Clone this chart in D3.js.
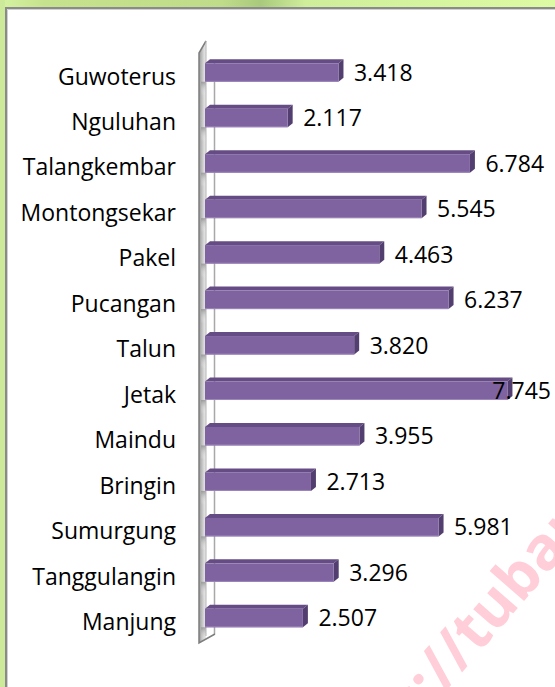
<!DOCTYPE html>
<html>
<head>
<meta charset="utf-8">
<style>
  body { margin: 0; background: #fff; }
  svg { display: block; }
  text { font-family: "Open Sans", "Noto Sans", sans-serif; }
</style>
<script src="https://d3js.org/d3.v7.min.js"></script>
</head>
<body>
<script>
// data, top to bottom
const villages = ["Guwoterus", "Nguluhan", "Talangkembar", "Montongsekar", "Pakel", "Pucangan",
                  "Talun", "Jetak", "Maindu", "Bringin", "Sumurgung", "Tanggulangin", "Manjung"];
const values = [3.418, 2.117, 6.784, 5.545, 4.463, 6.237, 3.820, 7.745, 3.955, 2.713, 5.981, 3.296, 2.507];
const valueLabels = ["3.418", "2.117", "6.784", "5.545", "4.463", "6.237", "3.820", "7.745",
                     "3.955", "2.713", "5.981", "3.296", "2.507"];

const w = 555, h = 687;
const depthX = 5, depthY = 4;   // 3D offset of the bars

const svg = d3.select("body").append("svg")
  .attr("width", w)
  .attr("height", h);

const defs = svg.append("defs");
const topGrad = defs.append("linearGradient").attr("id", "topStrip");
topGrad.append("stop").attr("offset", "0%").attr("stop-color", "#d6f3a2");
topGrad.append("stop").attr("offset", "8%").attr("stop-color", "#c6e28e");
topGrad.append("stop").attr("offset", "40%").attr("stop-color", "#bfdc8a");
topGrad.append("stop").attr("offset", "47%").attr("stop-color", "#a9c97c");
topGrad.append("stop").attr("offset", "55%").attr("stop-color", "#cfee9c");
topGrad.append("stop").attr("offset", "100%").attr("stop-color", "#ddfba2");

const wallGrad = defs.append("linearGradient").attr("id", "wallGrad");
wallGrad.append("stop").attr("offset", "0%").attr("stop-color", "#9a9a9a");
wallGrad.append("stop").attr("offset", "30%").attr("stop-color", "#d8d8d8");
wallGrad.append("stop").attr("offset", "60%").attr("stop-color", "#ffffff");
wallGrad.append("stop").attr("offset", "100%").attr("stop-color", "#c4c4c4");

const shadowGrad = defs.append("linearGradient").attr("id", "shadowGrad")
  .attr("x1", 0).attr("y1", 0).attr("x2", 0).attr("y2", 1);
shadowGrad.append("stop").attr("offset", "0%").attr("stop-color", "#909090").attr("stop-opacity", 0.8);
shadowGrad.append("stop").attr("offset", "100%").attr("stop-color", "#ffffff").attr("stop-opacity", 0);

// green frame around the chart
svg.append("rect").attr("x", 0).attr("y", 0).attr("width", w).attr("height", 7).attr("fill", "url(#topStrip)");
svg.append("rect").attr("x", 0).attr("y", 0).attr("width", 5).attr("height", h).attr("fill", "#cde99a");
svg.append("path")
  .attr("d", `M6,${h} V8 H${w}`)
  .attr("fill", "none").attr("stroke", "#8a8a8a").attr("stroke-width", 2);
svg.append("path")
  .attr("d", `M7.5,${h} V9.5 H${w}`)
  .attr("fill", "none").attr("stroke", "#d0d0d0").attr("stroke-width", 1);

const xScale = d3.scaleLinear()
  .domain([0, 9])
  .range([205, 205 + 9 * 39.05]);

const yScale = d3.scaleBand()
  .domain(villages)
  .range([49.8, 640.8])
  .paddingInner(0.593)
  .paddingOuter(0.2965);

const bw = yScale.bandwidth();

// side wall
const wall = svg.append("g");
wall.append("line")
  .attr("x1", 214.5).attr("x2", 214.5).attr("y1", 60).attr("y2", 634)
  .attr("stroke", "#a8a8a8").attr("stroke-width", 1.5);
wall.append("path")
  .attr("d", "M199,53 L206,41 L206,638 L215,634 L199,643 Z")
  .attr("fill", "url(#wallGrad)");
wall.selectAll("rect.shadow")
  .data(villages)
  .join("rect")
  .attr("class", "shadow")
  .attr("x", 201)
  .attr("y", d => yScale(d) + bw)
  .attr("width", 5)
  .attr("height", 14)
  .attr("fill", "url(#shadowGrad)");
wall.append("path")
  .attr("d", "M206,41 L199,53 L199,643 L215,634")
  .attr("fill", "none").attr("stroke", "#7d7d7d").attr("stroke-width", 1.5);
wall.append("line")
  .attr("x1", 206).attr("x2", 206).attr("y1", 41).attr("y2", 636)
  .attr("stroke", "#b5b5b5").attr("stroke-width", 1);

const rows = villages.map((v, i) => ({ name: v, value: values[i], label: valueLabels[i] }));

// bars
const bars = svg.selectAll("g.bar")
  .data(rows)
  .join("g")
  .attr("class", "bar");

bars.append("path")
  .attr("d", d => {
    const x0 = xScale(0), x1 = xScale(d.value), y = yScale(d.name);
    return `M${x0},${y} L${x0 + depthX},${y - depthY} L${x1 + depthX},${y - depthY} L${x1},${y} Z`;
  })
  .attr("fill", "#654c85");

bars.append("path")
  .attr("d", d => {
    const x1 = xScale(d.value), y = yScale(d.name);
    return `M${x1},${y} L${x1 + depthX},${y - depthY} L${x1 + depthX},${y + bw - depthY} L${x1},${y + bw} Z`;
  })
  .attr("fill", "#533f6f");

bars.append("rect")
  .attr("x", xScale(0))
  .attr("y", d => yScale(d.name))
  .attr("width", d => xScale(d.value) - xScale(0))
  .attr("height", bw)
  .attr("fill", "#7f62a0");

bars.append("line")
  .attr("x1", xScale(0))
  .attr("x2", d => xScale(d.value))
  .attr("y1", d => yScale(d.name) + bw - 0.5)
  .attr("y2", d => yScale(d.name) + bw - 0.5)
  .attr("stroke", "#9c86ba").attr("stroke-width", 1);

// category labels
svg.selectAll("text.cat")
  .data(rows)
  .join("text")
  .attr("class", "cat")
  .attr("x", 176)
  .attr("y", d => yScale(d.name) + bw / 2 + 12)
  .attr("text-anchor", "end")
  .attr("font-size", 23)
  .attr("fill", "#000")
  .text(d => d.name);

// value labels, kept inside the plot on the right
svg.selectAll("text.val")
  .data(rows)
  .join("text")
  .attr("class", "val")
  .attr("y", d => yScale(d.name) + bw / 2 + 8.2)
  .attr("font-size", 23)
  .attr("fill", "#000")
  .text(d => d.label)
  .each(function(d) {
    const tw = this.getComputedTextLength();
    let x = xScale(d.value) + 15.5;
    if (x + tw > 551) x = 551 - tw;
    d3.select(this).attr("x", x);
  });

// watermark
const wm = svg.append("g")
  .attr("transform", "translate(478,654) rotate(-49)")
  .attr("fill", "#ff0a3a")
  .attr("fill-opacity", 0.2)
  .attr("font-size", 60)
  .attr("font-weight", "bold");
wm.append("text").attr("text-anchor", "end").text("https://");
wm.append("text").attr("text-anchor", "start").text("tubankab.bps.go.id");
</script>
</body>
</html>
